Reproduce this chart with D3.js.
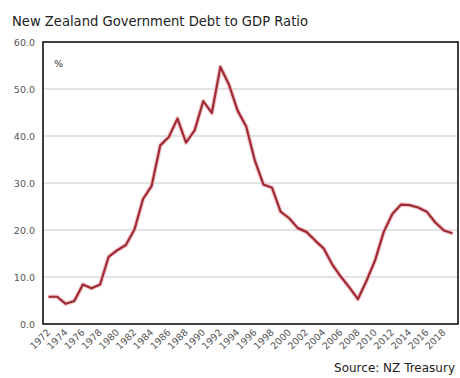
<!DOCTYPE html>
<html><head><meta charset="utf-8">
<script src="https://cdn.jsdelivr.net/npm/d3@7"></script>
<style>body{margin:0;background:#fff}</style>
</head><body>
<script>
const years = d3.range(1972, 2020);
const debt = [5.8,5.8,4.3,4.9,8.4,7.6,8.4,14.3,15.7,16.8,20.1,26.6,29.4,38.0,39.8,43.7,38.6,41.2,47.4,44.9,54.7,50.9,45.4,42.0,34.8,29.7,29.0,23.9,22.5,20.4,19.6,17.8,16.1,12.7,10.1,7.8,5.3,9.2,13.6,19.6,23.4,25.4,25.3,24.8,23.9,21.6,19.9,19.3];
const yTicks = [0,10,20,30,40,50,60];
const xTickYears = d3.range(1972, 2019, 2);

const W = 460, H = 378;
const m = {l:43, r:458, t:42, b:324};
const svg = d3.select("body").append("svg").attr("width", W).attr("height", H);

const x = d3.scalePoint().domain(years).range([m.l, m.r]).padding(0.64);
const y = d3.scaleLinear().domain([0, 60]).range([m.b, m.t]);

// gridlines
svg.append("g").selectAll("line").data(yTicks.filter(d => d > 0 && d < 60)).join("line")
  .attr("x1", m.l).attr("x2", m.r).attr("y1", d => y(d)).attr("y2", d => y(d))
  .attr("stroke", "#c8c8c8").attr("stroke-width", 1);

// y axis labels
const yAxis = d3.axisLeft(y).tickValues(yTicks).tickFormat(d3.format(".1f")).tickSize(0).tickPadding(8);
const gy = svg.append("g").attr("transform", `translate(${m.l},0)`).call(yAxis);
gy.select(".domain").remove();
gy.selectAll("text").attr("fill", "#555").style("font-family", "'DejaVu Sans', sans-serif").style("font-size", "9.5px");

// x axis labels
const xAxis = d3.axisBottom(x).tickValues(xTickYears).tickSize(0).tickPadding(0);
const gx = svg.append("g").attr("transform", `translate(0,${m.b})`).call(xAxis);
gx.select(".domain").remove();
gx.selectAll("text").attr("fill", "#555")
  .style("font-family", "'DejaVu Sans', sans-serif").style("font-size", "9.5px")
  .attr("text-anchor", "end").attr("dy", null).attr("y", 0)
  .attr("transform", "translate(2,9) rotate(-45)");

// line
const line = d3.line().x((d, i) => x(years[i])).y(d => y(d));
svg.append("path").datum(debt).attr("d", line)
  .attr("fill", "none").attr("stroke", "#f3c9cc").attr("stroke-width", 4.5).attr("stroke-linejoin", "round");
svg.append("path").datum(debt).attr("d", line)
  .attr("fill", "none").attr("stroke", "#9e2a35").attr("stroke-width", 2.2).attr("stroke-linejoin", "round");

// box
svg.append("rect").attr("x", m.l).attr("y", m.t).attr("width", m.r - m.l).attr("height", m.b - m.t)
  .attr("fill", "none").attr("stroke", "#000").attr("stroke-width", 1.5);

// texts
svg.append("text").attr("x", 12).attr("y", 26).text("New Zealand Government Debt to GDP Ratio")
  .attr("fill", "#222").style("font-family", "'DejaVu Sans', sans-serif").style("font-size", "14.5px")
  .attr("textLength", 296).attr("lengthAdjust", "spacingAndGlyphs");
svg.append("text").attr("x", 54).attr("y", 67).text("%")
  .attr("fill", "#333").style("font-family", "'DejaVu Sans', sans-serif").style("font-size", "9.5px");
svg.append("text").attr("x", 455).attr("y", 372).attr("text-anchor", "end").text("Source: NZ Treasury")
  .attr("fill", "#222").style("font-family", "'DejaVu Sans', sans-serif").style("font-size", "12px");
</script>
</body></html>
